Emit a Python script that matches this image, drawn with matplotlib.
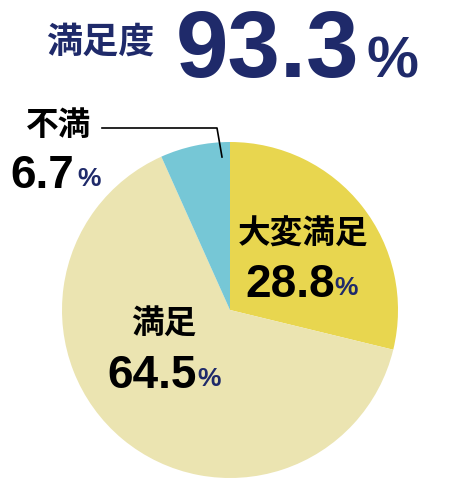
import matplotlib
matplotlib.use("Agg")
import matplotlib.pyplot as plt

labels = ["大変満足", "満足", "不満"]
values = [28.8, 64.5, 6.7]
value_text = ["28.8", "64.5", "6.7"]
total_label = "満足度"
total_value = "93.3"
colors = ["#e8d64f", "#ebe4b1", "#76c7d6"]
navy = "#1f2a6a"

W, H = 450, 480
fig = plt.figure(figsize=(W / 100, H / 100), dpi=100)
ax = fig.add_axes([(230 - 168) / W, (480 - 478) / H, 336 / W, 336 / H])
ax.pie(values, colors=colors, startangle=90, counterclock=False,
       wedgeprops=dict(linewidth=0))
ax.set_xlim(-1, 1)
ax.set_ylim(-1, 1)
ax.set_aspect("equal")
ax.axis("off")

def px(x, y):
    return x / W, 1 - y / H

cjk = ["Noto Sans CJK JP", "DejaVu Sans"]
num = "Liberation Sans"

# Title
fig.text(*px(46, 42), total_label, family=cjk, fontsize=26, fontweight="bold",
         color=navy, ha="left", va="center")
fig.text(*px(176, 77), total_value, family=num, fontsize=68, fontweight="bold",
         color=navy, ha="left", va="baseline")
fig.text(*px(366, 77), "%", family=num, fontsize=42, fontweight="bold",
         color=navy, ha="left", va="baseline")

# Category labels
label_pos = [(238, 234), (131, 323), (26, 125)]
num_pos = [(245, 297), (107, 388), (10, 188)]
pct_pos = [(334, 295), (197, 386), (77, 186)]
for lab, vt, lp, npos, pp in zip(labels, value_text, label_pos, num_pos, pct_pos):
    fig.text(*px(*lp), lab, family=cjk, fontsize=23.5, fontweight="bold",
             color="black", ha="left", va="center")
    fig.text(*px(*npos), vt, family=num, fontsize=33, fontweight="bold",
             color="black", ha="left", va="baseline")
    fig.text(*px(*pp), "%", family=num, fontsize=19, fontweight="bold",
             color=navy, ha="left", va="baseline")

# Leader line for 不満
lx = [102 / W, 217 / W, 222 / W]
ly = [1 - 128 / H, 1 - 128 / H, 1 - 157 / H]
fig.add_artist(plt.Line2D(lx, ly, color="black", linewidth=1.2))

fig.savefig("out.png", dpi=100)
